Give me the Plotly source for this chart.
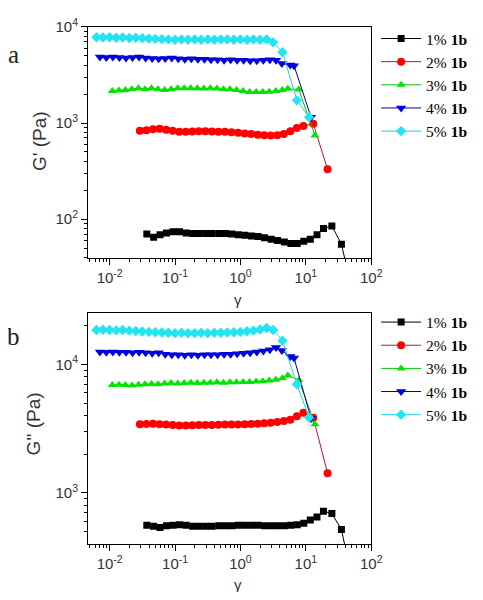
import plotly.graph_objects as go

# ---------------- data ----------------
series_names = ["1% <b>1b</b>", "2% <b>1b</b>", "3% <b>1b</b>", "4% <b>1b</b>", "5% <b>1b</b>"]

strain_1 = [0.037, 0.047, 0.059, 0.074, 0.093, 0.117, 0.148, 0.186, 0.234, 0.295, 0.37, 0.47, 0.59, 0.74,
            0.93, 1.17, 1.48, 1.86, 2.34, 2.95, 3.7, 4.7, 5.9, 7.4, 9.3, 11.7, 14.8, 18.6, 25.0, 35.0, 44.0]
strain_2 = [0.029, 0.0365, 0.046, 0.058, 0.073, 0.092, 0.116, 0.146, 0.184, 0.231, 0.291, 0.366, 0.461, 0.58,
            0.73, 0.92, 1.16, 1.46, 1.84, 2.31, 2.91, 3.66, 4.61, 5.8, 7.3, 9.2, 13.0, 21.5]
strain_3 = [0.011, 0.0139, 0.0174, 0.0219, 0.0276, 0.0347, 0.0437, 0.055, 0.0692, 0.0871, 0.11, 0.138, 0.174,
            0.219, 0.276, 0.347, 0.437, 0.55, 0.692, 0.871, 1.1, 1.38, 1.74, 2.19, 2.76, 3.47, 4.37, 5.3, 7.8, 13.8]
strain_4 = [0.0071, 0.0089, 0.0112, 0.0141, 0.0178, 0.0224, 0.0282, 0.0355, 0.0447, 0.0562, 0.0708, 0.0891, 0.112,
            0.141, 0.178, 0.224, 0.282, 0.355, 0.447, 0.562, 0.708, 0.891, 1.12, 1.41, 1.78, 2.24, 2.82,
            3.5, 4.3, 5.8, 6.6, 12.0]
strain_5 = [0.0063, 0.0079, 0.010, 0.0126, 0.0158, 0.020, 0.0251, 0.0316, 0.0398, 0.050, 0.063, 0.079, 0.100,
            0.126, 0.158, 0.200, 0.251, 0.316, 0.398, 0.501, 0.631, 0.794, 1.00, 1.26, 1.58, 2.00, 2.51, 3.16,
            4.4, 7.3, 11.2]

# storage modulus G' (Pa)
gp_1 = [70, 65, 69, 72, 74, 74, 72, 71, 71, 71, 71, 71, 71, 70, 69, 68, 67, 66, 64, 62, 60, 58, 56, 56,
        59, 62, 69, 80, 85, 55, 28]
gp_2 = [830, 840, 860, 870, 850, 830, 810, 810, 815, 820, 820, 815, 810, 810, 800, 790, 780, 770, 755, 745,
        740, 745, 770, 820, 890, 930, 980, 330]
gp_3 = [2150, 2180, 2200, 2250, 2300, 2250, 2300, 2250, 2200, 2250, 2300, 2300, 2300, 2300, 2280, 2300, 2280,
        2250, 2250, 2200, 2150, 2100, 2100, 2100, 2120, 2150, 2200, 2270, 2230, 740]
gp_4 = [4850, 4800, 4850, 4800, 4750, 4800, 4850, 4750, 4700, 4650, 4700, 4750, 4650, 4600, 4650, 4600, 4600,
        4550, 4550, 4500, 4550, 4500, 4500, 4450, 4450, 4500, 4550, 4500, 4150, 4000, 3950, 1150]
gp_5 = [7800, 7750, 7800, 7700, 7750, 7650, 7700, 7600, 7550, 7500, 7450, 7400, 7350, 7400, 7350, 7400, 7350,
        7400, 7350, 7400, 7400, 7350, 7400, 7350, 7400, 7350, 7400, 6900, 5450, 1720, 1150]

# loss modulus G'' (Pa)
gpp_1 = [560, 550, 537, 555, 560, 565, 560, 550, 550, 550, 550, 555, 555, 555, 560, 560, 560, 560, 555, 555,
         555, 555, 560, 565, 580, 615, 650, 720, 690, 520, 300]
gpp_2 = [3420, 3430, 3450, 3420, 3400, 3380, 3350, 3350, 3360, 3370, 3380, 3380, 3390, 3400, 3400, 3410, 3420,
         3430, 3450, 3480, 3520, 3560, 3620, 3700, 3950, 4200, 3850, 1420]
gpp_3 = [6900, 6950, 6900, 6850, 6950, 7000, 7050, 7000, 7100, 7150, 7100, 7150, 7200, 7150, 7200, 7200, 7250,
         7200, 7250, 7250, 7300, 7300, 7350, 7400, 7500, 7600, 7800, 8200, 7550, 3420]
gpp_4 = [12500, 12400, 12500, 12400, 12400, 12300, 12400, 12300, 12200, 12300, 12000, 11900, 11900, 11800,
         11900, 11800, 11900, 11900, 11900, 12000, 12000, 12100, 12200, 12300, 12500, 12700, 13000,
         13500, 12800, 11500, 11200, 3800]
gpp_5 = [18500, 18600, 18500, 18400, 18500, 18300, 18200, 18000, 17900, 17800, 17700, 17600, 17500, 17600,
         17500, 17500, 17600, 17500, 17600, 17600, 17700, 17800, 17900, 18100, 18300, 18700, 19200, 18500,
         15300, 7000, 3850]

x_tickvals = [0.01, 0.1, 1, 10, 100]
x_ticktext = ["10<sup>-2</sup>", "10<sup>-1</sup>", "10<sup>0</sup>", "10<sup>1</sup>", "10<sup>2</sup>"]
ya_tickvals = [100, 1000, 10000]
ya_ticktext = ["10<sup>2</sup>", "10<sup>3</sup>", "10<sup>4</sup>"]
yb_tickvals = [1000, 10000]
yb_ticktext = ["10<sup>3</sup>", "10<sup>4</sup>"]

# ---------------- style ----------------
colors = ["#000000", "#FF0000", "#00E600", "#0000E0", "#22E4F2"]
line_colors = ["#000000", "#C01030", "#00C000", "#000090", "#20D0E8"]
symbols = ["square", "circle", "triangle-up", "triangle-down", "diamond"]
sizes = [7, 8, 8, 9, 8]

# page is 483x600; default body margin of 8px surrounds the figure
M = 8
W, H = 483 - 2 * M, 600 - 2 * M
strains = [strain_1, strain_2, strain_3, strain_4, strain_5]
gps = [gp_1, gp_2, gp_3, gp_4, gp_5]
gpps = [gpp_1, gpp_2, gpp_3, gpp_4, gpp_5]

fig = go.Figure()
for i in range(5):
    fig.add_trace(go.Scatter(x=strains[i], y=gps[i], mode="lines+markers", name=series_names[i],
                             line=dict(color=line_colors[i], width=1),
                             marker=dict(color=colors[i], symbol=symbols[i], size=sizes[i], line=dict(width=0)),
                             xaxis="x", yaxis="y", legend="legend"))
for i in range(5):
    fig.add_trace(go.Scatter(x=strains[i], y=gpps[i], mode="lines+markers", name=series_names[i],
                             line=dict(color=line_colors[i], width=1),
                             marker=dict(color=colors[i], symbol=symbols[i], size=sizes[i], line=dict(width=0)),
                             xaxis="x2", yaxis="y2", legend="legend2"))

def px_x(p):  # page pixel -> paper fraction
    return (p - M) / W

def px_y(p):
    return 1 - (p - M) / H

sans = "Liberation Sans, Arial, sans-serif"
tickfont = dict(family=sans, size=15, color="#333333")
minor = dict(ticks="outside", ticklen=3, tickwidth=1, tickcolor="black", showgrid=False,
             tickmode="linear", dtick="D1")
common_x = dict(type="log", range=[-2.33, 2.0], domain=[px_x(90), px_x(380)],
                tickmode="array", tickvals=x_tickvals, ticktext=x_ticktext, ticks="outside", ticklen=6,
                tickwidth=1, tickcolor="black", showline=True, linecolor="black", linewidth=1, mirror=True,
                showgrid=False, zeroline=False, tickfont=tickfont, minor=minor, ticklabeloverflow="allow")
common_y = dict(type="log", tickmode="array", ticks="outside", ticklen=6, tickwidth=1, tickcolor="black",
                showline=True, linecolor="black", linewidth=1, mirror=True, showgrid=False,
                zeroline=False, tickfont=tickfont, minor=minor, ticklabeloverflow="allow")

legend_font = dict(family="Liberation Serif, Times New Roman, serif", size=15.5, color="black")

fig.update_layout(
    width=W, height=H, margin=dict(l=0, r=0, t=0, b=0),
    paper_bgcolor="white", plot_bgcolor="white", showlegend=True,
    xaxis=dict(common_x, anchor="y"),
    yaxis=dict(common_y, domain=[px_y(252), px_y(16)], range=[1.592, 4.0],
               tickvals=ya_tickvals, ticktext=ya_ticktext, anchor="x"),
    xaxis2=dict(common_x, anchor="y2"),
    yaxis2=dict(common_y, domain=[px_y(543), px_y(308)], range=[2.603, 4.397],
                tickvals=yb_tickvals, ticktext=yb_ticktext, anchor="x2"),
    legend=dict(x=px_x(385), y=px_y(11), xanchor="left", yanchor="top", font=legend_font,
                bgcolor="rgba(0,0,0,0)", itemwidth=40, tracegroupgap=0),
    legend2=dict(x=px_x(385), y=px_y(300), xanchor="left", yanchor="top", font=legend_font,
                 bgcolor="rgba(0,0,0,0)", itemwidth=40, tracegroupgap=0),
)

title_font = dict(family=sans, size=19, color="#333333")
gamma_font = dict(family=sans, size=15, color="#333333")
letter_font = dict(family="Liberation Serif, Times New Roman, serif", size=25, color="#222222")
annos = [
    dict(text="G' (Pa)", x=px_x(40), y=px_y(132), textangle=-90, font=title_font),
    dict(text="G'' (Pa)", x=px_x(34), y=px_y(421), textangle=-90, font=title_font),
    dict(text="γ", x=px_x(244), y=px_y(294), font=gamma_font),
    dict(text="γ", x=px_x(244), y=px_y(584), font=gamma_font),
    dict(text="a", x=px_x(14), y=px_y(44), font=letter_font),
    dict(text="b", x=px_x(14), y=px_y(332), font=letter_font),
]
for a in annos:
    fig.add_annotation(xref="paper", yref="paper", showarrow=False, xanchor="center", yanchor="middle", **a)

fig.write_html("out.html", config={"displayModeBar": False})
